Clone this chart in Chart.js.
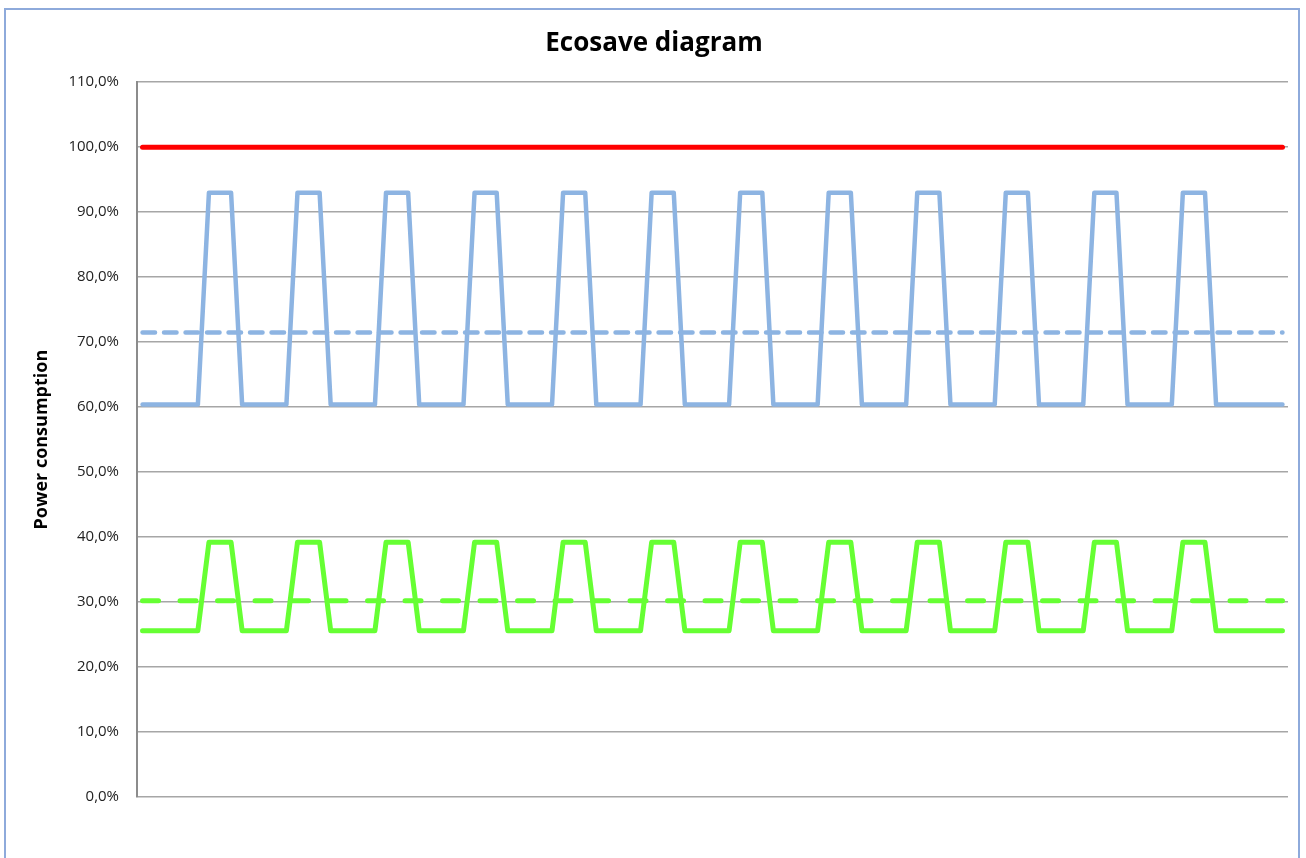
<!DOCTYPE html>
<html>
<head>
<meta charset="utf-8">
<title>Ecosave diagram</title>
<script src="https://cdn.jsdelivr.net/npm/chart.js@4.4.1/dist/chart.umd.min.js"></script>
<style>
  html, body { margin: 0; padding: 0; background: #ffffff; overflow: hidden; }
  #frame {
    position: absolute; left: 4px; top: 8px; width: 1296px; height: 900px;
    border: 2px solid #8eaadb; box-sizing: border-box;
  }
  #wrap { position: absolute; left: 0; top: 0; width: 1306px; height: 858px; }
</style>
</head>
<body>
<div id="frame"></div>
<div id="wrap"><canvas id="ecosave-chart" width="1306" height="858"></canvas></div>
<script>
// time steps along the x axis (not labelled in the original)
const steps = Array.from({ length: 104 }, (_, i) => i + 1);

const yTicks = [0, 10, 20, 30, 40, 50, 60, 70, 80, 90, 100, 110];

// reference consumption without Ecosave
const fullPower = [
  100, 100, 100, 100, 100, 100, 100, 100,
  100, 100, 100, 100, 100, 100, 100, 100,
  100, 100, 100, 100, 100, 100, 100, 100,
  100, 100, 100, 100, 100, 100, 100, 100,
  100, 100, 100, 100, 100, 100, 100, 100,
  100, 100, 100, 100, 100, 100, 100, 100,
  100, 100, 100, 100, 100, 100, 100, 100,
  100, 100, 100, 100, 100, 100, 100, 100,
  100, 100, 100, 100, 100, 100, 100, 100,
  100, 100, 100, 100, 100, 100, 100, 100,
  100, 100, 100, 100, 100, 100, 100, 100,
  100, 100, 100, 100, 100, 100, 100, 100,
  100, 100, 100, 100, 100, 100, 100, 100
];

// blue profile
const blueProfile = [
  60.4, 60.4, 60.4, 60.4, 60.4, 60.4, 93, 93,
  93, 60.4, 60.4, 60.4, 60.4, 60.4, 93, 93,
  93, 60.4, 60.4, 60.4, 60.4, 60.4, 93, 93,
  93, 60.4, 60.4, 60.4, 60.4, 60.4, 93, 93,
  93, 60.4, 60.4, 60.4, 60.4, 60.4, 93, 93,
  93, 60.4, 60.4, 60.4, 60.4, 60.4, 93, 93,
  93, 60.4, 60.4, 60.4, 60.4, 60.4, 93, 93,
  93, 60.4, 60.4, 60.4, 60.4, 60.4, 93, 93,
  93, 60.4, 60.4, 60.4, 60.4, 60.4, 93, 93,
  93, 60.4, 60.4, 60.4, 60.4, 60.4, 93, 93,
  93, 60.4, 60.4, 60.4, 60.4, 60.4, 93, 93,
  93, 60.4, 60.4, 60.4, 60.4, 60.4, 93, 93,
  93, 60.4, 60.4, 60.4, 60.4, 60.4, 60.4, 60.4
];

const blueAverage = [
  71.5, 71.5, 71.5, 71.5, 71.5, 71.5, 71.5, 71.5,
  71.5, 71.5, 71.5, 71.5, 71.5, 71.5, 71.5, 71.5,
  71.5, 71.5, 71.5, 71.5, 71.5, 71.5, 71.5, 71.5,
  71.5, 71.5, 71.5, 71.5, 71.5, 71.5, 71.5, 71.5,
  71.5, 71.5, 71.5, 71.5, 71.5, 71.5, 71.5, 71.5,
  71.5, 71.5, 71.5, 71.5, 71.5, 71.5, 71.5, 71.5,
  71.5, 71.5, 71.5, 71.5, 71.5, 71.5, 71.5, 71.5,
  71.5, 71.5, 71.5, 71.5, 71.5, 71.5, 71.5, 71.5,
  71.5, 71.5, 71.5, 71.5, 71.5, 71.5, 71.5, 71.5,
  71.5, 71.5, 71.5, 71.5, 71.5, 71.5, 71.5, 71.5,
  71.5, 71.5, 71.5, 71.5, 71.5, 71.5, 71.5, 71.5,
  71.5, 71.5, 71.5, 71.5, 71.5, 71.5, 71.5, 71.5,
  71.5, 71.5, 71.5, 71.5, 71.5, 71.5, 71.5, 71.5
];

// green profile
const greenProfile = [
  25.6, 25.6, 25.6, 25.6, 25.6, 25.6, 39.2, 39.2,
  39.2, 25.6, 25.6, 25.6, 25.6, 25.6, 39.2, 39.2,
  39.2, 25.6, 25.6, 25.6, 25.6, 25.6, 39.2, 39.2,
  39.2, 25.6, 25.6, 25.6, 25.6, 25.6, 39.2, 39.2,
  39.2, 25.6, 25.6, 25.6, 25.6, 25.6, 39.2, 39.2,
  39.2, 25.6, 25.6, 25.6, 25.6, 25.6, 39.2, 39.2,
  39.2, 25.6, 25.6, 25.6, 25.6, 25.6, 39.2, 39.2,
  39.2, 25.6, 25.6, 25.6, 25.6, 25.6, 39.2, 39.2,
  39.2, 25.6, 25.6, 25.6, 25.6, 25.6, 39.2, 39.2,
  39.2, 25.6, 25.6, 25.6, 25.6, 25.6, 39.2, 39.2,
  39.2, 25.6, 25.6, 25.6, 25.6, 25.6, 39.2, 39.2,
  39.2, 25.6, 25.6, 25.6, 25.6, 25.6, 39.2, 39.2,
  39.2, 25.6, 25.6, 25.6, 25.6, 25.6, 25.6, 25.6
];

const greenAverage = [
  30.2, 30.2, 30.2, 30.2, 30.2, 30.2, 30.2, 30.2,
  30.2, 30.2, 30.2, 30.2, 30.2, 30.2, 30.2, 30.2,
  30.2, 30.2, 30.2, 30.2, 30.2, 30.2, 30.2, 30.2,
  30.2, 30.2, 30.2, 30.2, 30.2, 30.2, 30.2, 30.2,
  30.2, 30.2, 30.2, 30.2, 30.2, 30.2, 30.2, 30.2,
  30.2, 30.2, 30.2, 30.2, 30.2, 30.2, 30.2, 30.2,
  30.2, 30.2, 30.2, 30.2, 30.2, 30.2, 30.2, 30.2,
  30.2, 30.2, 30.2, 30.2, 30.2, 30.2, 30.2, 30.2,
  30.2, 30.2, 30.2, 30.2, 30.2, 30.2, 30.2, 30.2,
  30.2, 30.2, 30.2, 30.2, 30.2, 30.2, 30.2, 30.2,
  30.2, 30.2, 30.2, 30.2, 30.2, 30.2, 30.2, 30.2,
  30.2, 30.2, 30.2, 30.2, 30.2, 30.2, 30.2, 30.2,
  30.2, 30.2, 30.2, 30.2, 30.2, 30.2, 30.2, 30.2
];

const FONT = "'Open Sans', 'DejaVu Sans', sans-serif";

const lineStyle = {
  pointRadius: 0,
  pointHoverRadius: 0,
  tension: 0,
  fill: false,
  borderJoinStyle: "round",
  borderCapStyle: "round",
};

const ctx = document.getElementById("ecosave-chart").getContext("2d");

new Chart(ctx, {
  type: "line",
  data: {
    labels: steps,
    datasets: [
      { ...lineStyle, label: "100%", data: fullPower, borderColor: "#ff0000", borderWidth: 5, order: 1 },
      { ...lineStyle, label: "Blue", data: blueProfile, borderColor: "#8db4e2", borderWidth: 4.5, order: 2 },
      { ...lineStyle, label: "Blue avg", data: blueAverage, borderColor: "#8db4e2", borderWidth: 4.5, borderDash: [12.5, 9], order: 3 },
      { ...lineStyle, label: "Green", data: greenProfile, borderColor: "#66ff33", borderWidth: 5, order: 4 },
      { ...lineStyle, label: "Green avg", data: greenAverage, borderColor: "#66ff33", borderWidth: 5, borderDash: [16, 21.5], order: 5 },
    ],
  },
  options: {
    responsive: false,
    animation: false,
    events: [],
    layout: {
      padding: { left: 20, right: 18, top: 0, bottom: 61 },
    },
    plugins: {
      legend: { display: false },
      tooltip: { enabled: false },
      title: {
        display: true,
        text: "Ecosave diagram",
        color: "#000000",
        font: { family: FONT, size: 26, weight: "bold", lineHeight: 1.2 },
        padding: { top: 28, bottom: 23 },
      },
    },
    scales: {
      x: {
        type: "category",
        display: false,
        offset: true,
      },
      y: {
        min: 0,
        max: 110,
        afterFit: (scale) => { scale.width = 117; },
        afterBuildTicks: (scale) => { scale.ticks = yTicks.map(v => ({ value: v })); },
        ticks: {
          padding: 18,
          color: "#222222",
          font: { family: FONT, size: 15 },
          callback: (v) => v.toFixed(1).replace(".", ",") + "%",
        },
        grid: {
          color: "#a6a6a6",
          lineWidth: 1.5,
          drawTicks: false,
        },
        border: { color: "#8c8c8c", width: 2 },
        title: {
          display: true,
          text: "Power consumption",
          color: "#000000",
          font: { family: FONT, size: 18, weight: "bold", lineHeight: 1.2 },
          padding: { top: 11, bottom: 0 },
        },
      },
    },
  },
});
</script>
</body>
</html>
